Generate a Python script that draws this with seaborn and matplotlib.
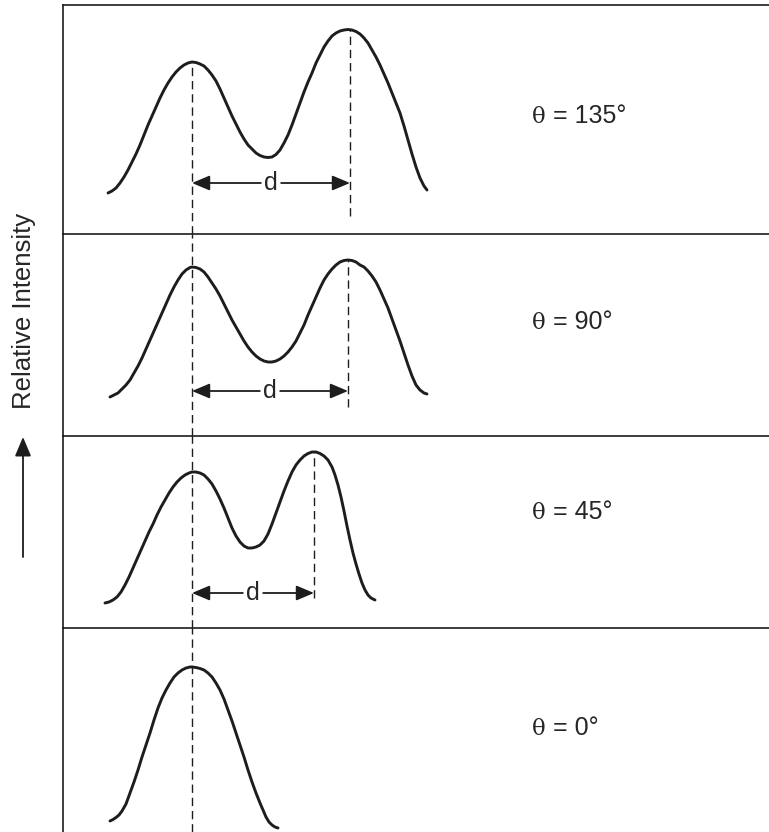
import numpy as np
import pandas as pd
import matplotlib
matplotlib.use("Agg")
import matplotlib.pyplot as plt
import seaborn as sns

# ---------------- data ----------------
angles = ["135°", "90°", "45°", "0°"]

# position (relative to the central peak) and relative intensity of each profile
pos_135 = [-84, -80, -76, -72, -68, -64, -60, -56, -52, -48, -44, -40, -36, -32, -28, -24,
           -20, -16, -12, -8, -4, 0, 4, 8, 12, 16, 20, 24, 28, 32, 36, 40, 44, 48, 52, 56,
           60, 64, 68, 72, 76, 80, 84, 88, 92, 96, 100, 104, 108, 112, 116, 120, 124, 128,
           132, 136, 140, 144, 148, 152, 156, 160, 164, 168, 172, 176, 180, 184, 188, 192,
           196, 200, 204, 208, 212, 216, 220, 224, 228, 232, 235]
int_135 = [41, 43, 46, 51, 57, 64, 72, 80, 89, 99, 109, 118, 127, 136, 144, 151,
           157, 162, 166, 169, 171, 172, 171.5, 170, 168, 164, 159, 153, 145, 136, 127, 118,
           110, 102, 95, 89, 85, 81, 78.5, 77, 76.5, 77, 79.5, 84, 91, 99, 109, 120, 131,
           142, 152, 161, 171, 179, 187, 193, 198, 201, 203, 204, 204.5, 204, 202.5, 200,
           196, 191, 184, 177, 169, 160, 151, 141, 131, 121, 108, 94, 80, 67, 56, 48, 44]

pos_90 = [-82, -78, -74, -70, -66, -62, -58, -54, -50, -46, -42, -38, -34, -30, -26, -22,
          -18, -14, -10, -6, -2, 0, 4, 8, 12, 16, 20, 24, 28, 32, 36, 40, 44, 48, 52, 56,
          60, 64, 68, 72, 76, 80, 84, 88, 92, 96, 100, 104, 108, 112, 116, 120, 124, 128,
          132, 136, 140, 144, 148, 152, 156, 160, 164, 168, 172, 176, 180, 184, 188, 192,
          196, 200, 204, 208, 212, 216, 220, 224, 228, 232, 235]
int_90 = [39, 41, 43, 47, 51, 56, 63, 70, 78, 87, 96, 105, 114, 123, 132, 141,
          149, 156, 162, 166, 168.5, 169, 168.5, 167, 164, 159, 153, 147, 140, 132, 124, 116,
          109, 102, 95, 89, 84, 80, 77, 75, 74, 74, 75, 77, 80, 84, 89, 95, 103, 111, 121,
          130, 139, 148, 156, 162, 167, 171, 174, 175.5, 176, 175.5, 174, 171, 169, 165,
          160, 154, 146, 137, 128, 117, 106, 95, 83, 71, 60, 51, 46, 43, 42]

pos_45 = [-87, -83, -79, -75, -71, -67, -63, -59, -55, -51, -47, -43, -39, -35, -31, -27,
          -23, -19, -15, -11, -7, -3, 0, 4, 8, 12, 16, 20, 24, 28, 32, 36, 40, 44, 48, 52,
          56, 60, 64, 68, 72, 76, 80, 84, 88, 92, 96, 100, 104, 108, 112, 116, 120, 124,
          128, 132, 136, 140, 143, 146, 149, 152, 155, 158, 161, 164, 167, 170, 173, 176,
          179, 183]
int_45 = [25, 26, 28, 31, 36, 43, 51, 60, 69, 78, 87, 96, 104, 113, 121, 128,
          135, 141, 146, 150, 153, 155, 156, 156, 155, 153, 149, 144, 137, 129, 120, 110,
          100, 92, 86, 82, 80, 80, 81, 83, 87, 94, 104, 115, 126, 137, 147, 156, 163, 168,
          172, 174.5, 176, 176, 174.5, 172, 168, 161, 153, 143, 131, 117, 102, 88, 75, 64,
          54, 45, 38, 33, 30, 28]

pos_0 = [-82, -79, -76, -73, -70, -66, -62, -58, -54, -50, -46, -42, -38, -34, -30, -26,
         -22, -18, -14, -10, -6, -2, 0, 4, 8, 12, 16, 20, 24, 28, 32, 36, 40, 44, 48, 52,
         56, 60, 64, 68, 71, 74, 77, 80, 83, 86]
int_0 = [11, 12.5, 14.5, 17, 21, 28, 39, 50, 62, 75, 87, 99, 112, 124, 134, 142,
         149, 155, 159, 162, 164, 165, 165, 164.5, 163.5, 162, 159, 155, 149, 142, 133,
         122, 111, 99, 87, 75, 62, 50, 39, 29, 22, 15, 10, 7, 5, 4]

positions = [pos_135, pos_90, pos_45, pos_0]
intensities = [int_135, int_90, int_45, int_0]

peak_sep = [158, 156, 122, None]        # separation d of the two maxima
peak2_height = [204, 176, 176, None]
central_peak = [172, 169, 156, 165]
d_level = [51, 45, 35, None]            # height of the d arrow
d_line_bottom = [18, 29, 30, None]      # lower end of the dashed marker at 2nd peak
label_level = [111, 107, 109, 97]       # baseline of the θ labels

# ---------------- layout ----------------
W, H = 769, 832
left_px = 63
tops = [5, 234, 436, 628]
bottoms = [234, 436, 628, 832]
xlim = (-129, 577)

INK = "#1d1d1b"
TXT = "#262626"

sns.set_theme(style="white")
plt.rcParams["font.family"] = ["Liberation Sans", "DejaVu Sans"]

fig = plt.figure(figsize=(W / 100, H / 100), dpi=100)
fig.patch.set_facecolor("white")

for k in range(4):
    ph = bottoms[k] - tops[k]
    ax = fig.add_axes([left_px / W, 1 - bottoms[k] / H, 1 - left_px / W, ph / H])
    ax.set_facecolor("none")
    df = pd.DataFrame({"position": positions[k], "intensity": intensities[k]})
    sns.lineplot(data=df, x="position", y="intensity", ax=ax, sort=False,
                 estimator=None, color=INK, linewidth=2.1,
                 solid_joinstyle="round", solid_capstyle="round")
    ax.set_xlim(*xlim)
    ax.set_ylim(0, ph)
    ax.set(xlabel="", ylabel="", xticks=[], yticks=[])
    for s in ["right", "bottom"]:
        ax.spines[s].set_visible(False)
    for s in ["left", "top"]:
        ax.spines[s].set_visible(True)
        ax.spines[s].set_color(INK)
        ax.spines[s].set_linewidth(1.2)

    # central dashed reference line
    ymax = central_peak[k] if k == 0 else ph
    ax.vlines(0, 0, ymax, colors=INK, linewidth=1.0, linestyles=(0, (6, 3.5)))

    if peak_sep[k] is not None:
        sep = peak_sep[k]
        ax.vlines(sep, d_line_bottom[k], peak2_height[k], colors=INK, linewidth=1.0,
                  linestyles=(0, (6, 3.5)))
        ap = dict(arrowstyle="-|>,head_length=0.9,head_width=0.38", color=INK,
                  lw=1.3, shrinkA=0, shrinkB=0, mutation_scale=12)
        ax.annotate("d", xy=(0, d_level[k]), xytext=(sep / 2, d_level[k]),
                    ha="center", va="center", fontsize=18, color=TXT, arrowprops=ap)
        ax.annotate("d", xy=(sep, d_level[k]), xytext=(sep / 2, d_level[k]),
                    ha="center", va="center", fontsize=18, color="none", arrowprops=ap)

    # angle labels
    ax.text(340, label_level[k], "θ", family=["DejaVu Serif"],
            fontsize=16.5, color=TXT, ha="left", va="baseline")
    ax.text(361, label_level[k], "= " + angles[k], fontsize=18, color=TXT,
            ha="left", va="baseline")

# y-axis caption with arrow
fig.text(24 / W, 1 - 311 / H, "Relative Intensity", rotation=90, fontsize=18.5,
         color=TXT, ha="center", va="center")
fig.add_artist(matplotlib.patches.FancyArrowPatch(
    (23 / W, 1 - 557 / H), (23 / W, 1 - 437 / H), transform=fig.transFigure,
    arrowstyle="-|>,head_length=0.9,head_width=0.38", mutation_scale=13,
    color=INK, lw=1.3, shrinkA=0, shrinkB=0))

fig.savefig("out.png", dpi=100, facecolor="white")
